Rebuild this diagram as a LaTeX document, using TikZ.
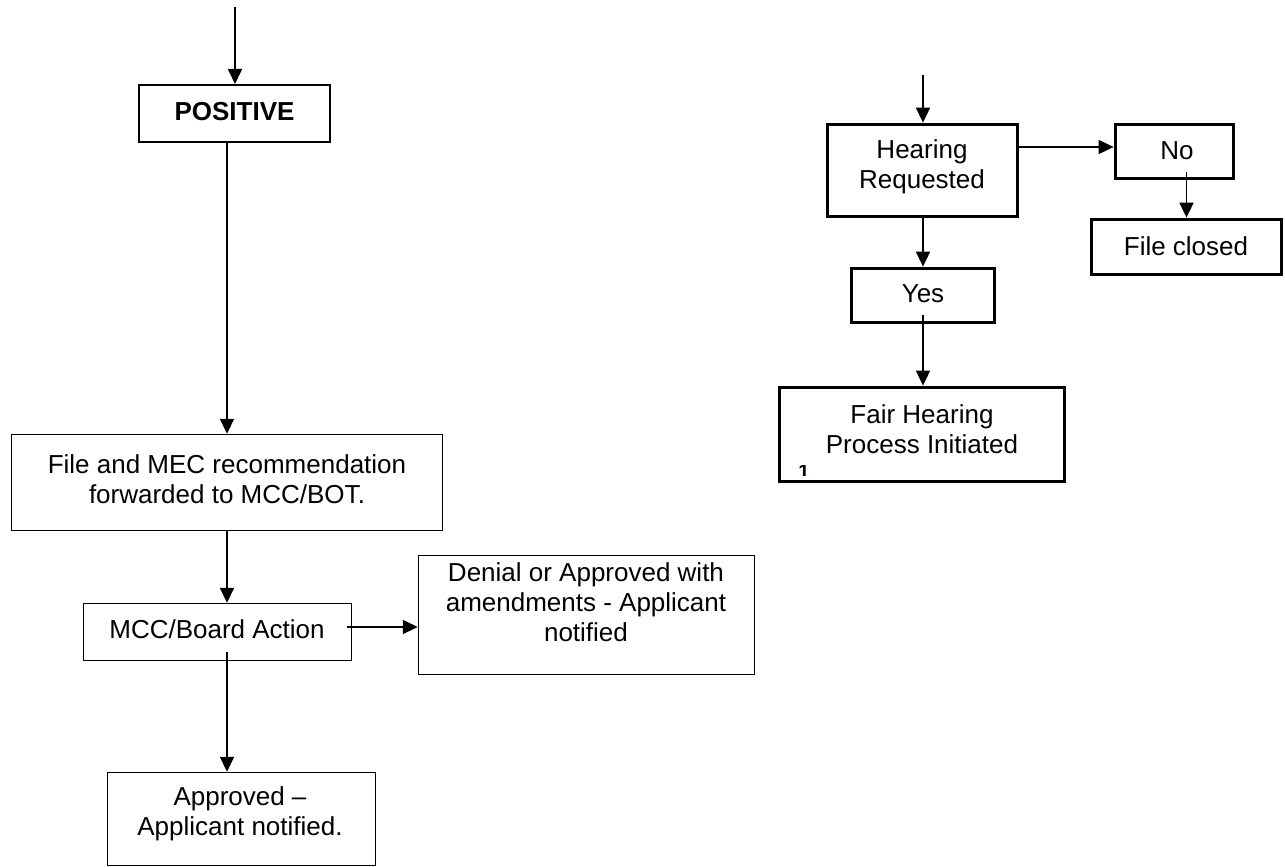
\documentclass[tikz,border=0pt]{standalone}
\usepackage{fontspec}
\setmainfont{Liberation Sans}
\usetikzlibrary{arrows.meta,calc}
\begin{document}
\begin{tikzpicture}[x=1pt,y=-1pt,
  every node/.style={font=\fontsize{26}{30}\selectfont},
  thinbox/.style={draw, line width=1.4pt, inner sep=0pt},
  midbox/.style={draw, line width=2pt, inner sep=0pt},
  thickbox/.style={draw, line width=3.8pt, inner sep=0pt},
  txt/.style={align=center, inner sep=0pt},
  arr/.style={line width=1.7pt, -{Triangle[length=15pt,width=14pt]}}]
\useasboundingbox[fill=white] (0,0) rectangle (1285,867);

% ---------- left column boxes ----------
\node[midbox, minimum width=191pt, minimum height=57pt] (positive) at (234.5,113.5) {};
\node[txt, font=\fontsize{26}{30}\selectfont\bfseries] (positive-t) at (234.5,112) {POSITIVE};

\node[thinbox, minimum width=431pt, minimum height=96pt] (file) at (227,482.5) {};
\node[txt] (file-t) at (227,479) {File and MEC recommendation\\forwarded to MCC/BOT.};

\node[thinbox, minimum width=268pt, minimum height=57pt] (mcc) at (217.5,632) {};
\node[txt] (mcc-t) at (217,629) {MCC/Board Action};

\node[thinbox, minimum width=336pt, minimum height=119pt] (denial) at (586.5,615) {};
\node[txt] (denial-t) at (586,602) {Denial or Approved with\\amendments - Applicant\\notified};

\node[thinbox, minimum width=268pt, minimum height=93pt] (approved) at (241.5,819) {};
\node[txt] (approved-t) at (240,813.5) {Approved --\\Applicant notified.};

% ---------- right column boxes ----------
\node[thickbox, minimum width=190pt, minimum height=92pt] (hearing) at (922.5,170.5) {};
\node[txt] (hearing-t) at (922,167) {Hearing\\Requested};

\node[thickbox, minimum width=118pt, minimum height=54pt] (no) at (1174.5,151.5) {};
\node[txt] (no-t) at (1177,151) {No};

\node[thickbox, minimum width=190pt, minimum height=55pt] (closed) at (1186.5,247) {};
\node[txt] (closed-t) at (1186,246) {File closed};

\node[thickbox, minimum width=143pt, minimum height=54pt] (yes) at (923,295.5) {};
\node[txt] (yes-t) at (923,294) {Yes};

\node[thickbox, minimum width=285pt, minimum height=94pt] (fair) at (922,434.5) {};
\node[txt] (fair-t) at (922,429.5) {Fair Hearing\\Process Initiated};

\begin{scope}
  \clip (795,465) rectangle (812,475);
  \node[inner sep=0pt, anchor=north, font=\fontsize{20}{20}\selectfont\bfseries] (mark) at (804,465) {1};
\end{scope}

% ---------- connectors ----------
\coordinate (topL) at (235,7);
\coordinate (spine) at (227,0);
\draw[arr] (topL) -- (topL |- positive.north);
\draw[arr] (spine |- positive.south) -- (spine |- file.north);
\draw[arr] (spine |- file.south) -- (spine |- mcc.north);
\path (spine |- mcc.south) ++(0,-9) coordinate (mccout);
\draw[arr] (mccout) -- (spine |- approved.north);
\path (mcc.east) ++(-5,-5) coordinate (mccright);
\draw[arr] (mccright) -- (denial.west |- mccright);

\coordinate (topR) at (923,75);
\draw[arr] (topR) -- (topR |- hearing.north);
\path ([yshift=4.5pt]no.west) coordinate (noin);
\draw[arr] (hearing.east |- noin) -- (noin);
\draw[arr] (topR |- hearing.south) -- (topR |- yes.north);
\path (closed.north |- no.south) ++(0,-8) coordinate (noout);
\draw[arr] (noout) -- (closed.north);
\path (yes.south) ++(0,-9) coordinate (yesout);
\draw[arr] (yesout) -- (yesout |- fair.north);
\end{tikzpicture}
\end{document}
